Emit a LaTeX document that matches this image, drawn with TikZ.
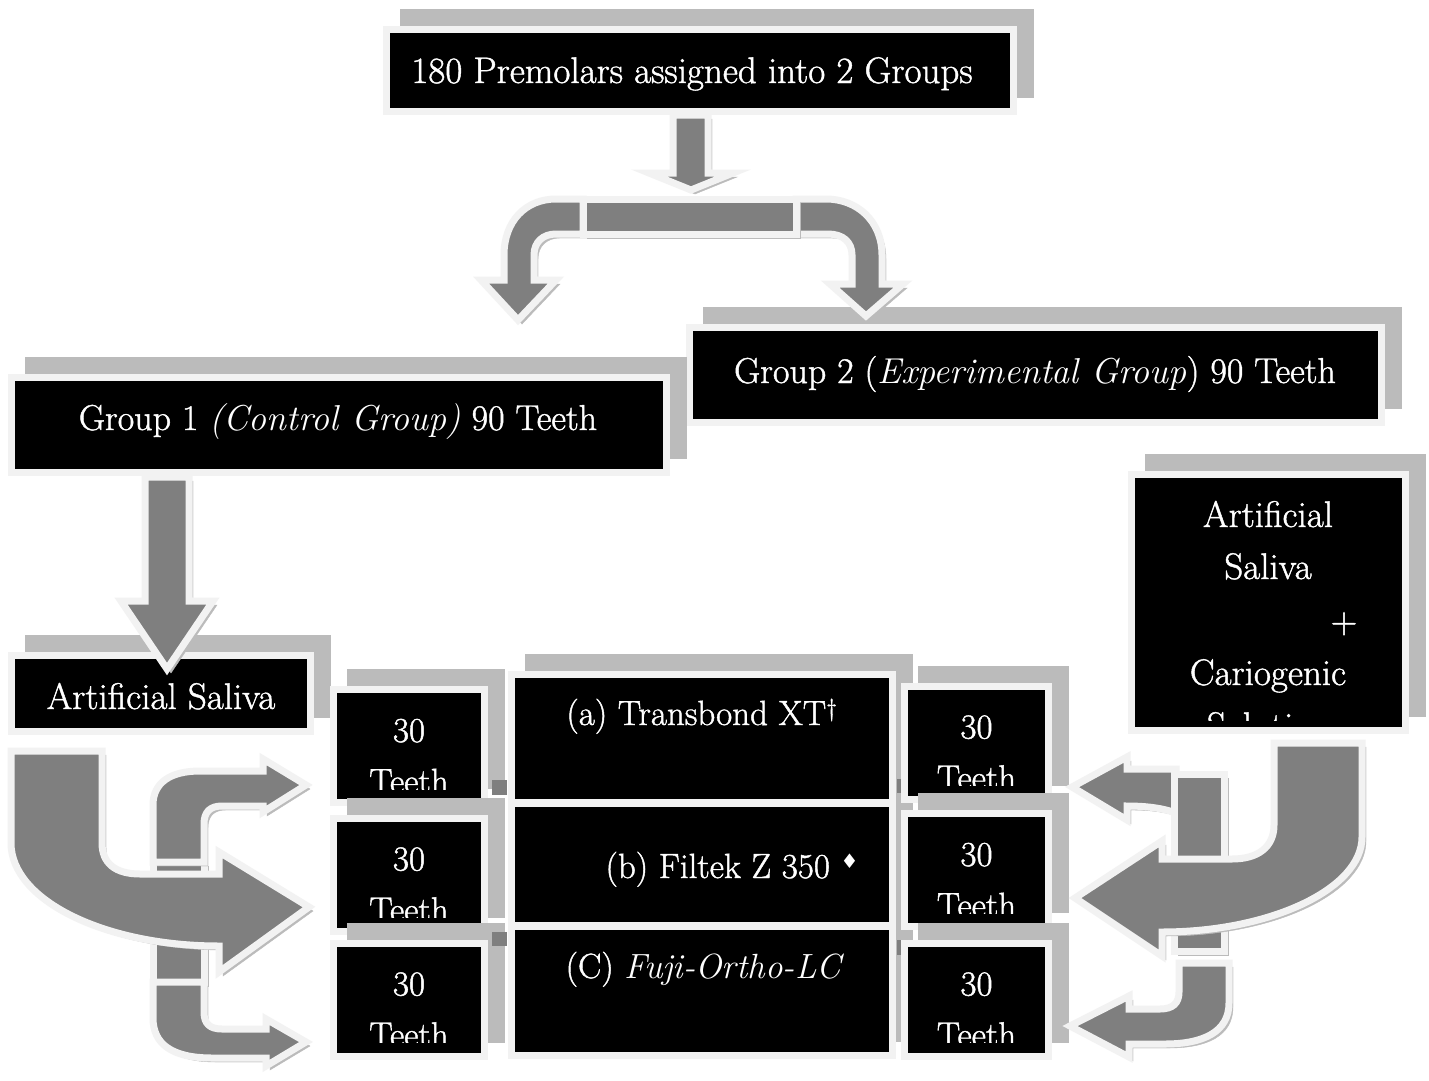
\documentclass[tikz,border=0pt]{standalone}
\usepackage{fontspec}
\setmainfont{Latin Modern Roman}[UprightFeatures={FakeBold=1.2}]
\newfontfamily\symbolfont{DejaVu Sans}

\definecolor{rim}{HTML}{F2F2F2}
\definecolor{shade}{HTML}{BBBBBB}
\definecolor{pipe}{HTML}{7F7F7F}

\begin{document}
\begin{tikzpicture}[x=1pt, y=-1pt,
    blackbox/.style = {draw=rim, fill=black, line width=7pt, inner sep=0pt,
        preaction={draw=shade, fill=shade, transform canvas={xshift=17pt, yshift=17pt}}},
    tooth/.style = {blackbox, minimum width=151pt, minimum height=113pt},
    pipearrow/.style = {draw=rim, fill=pipe, line width=7pt,
        preaction={draw=shade, fill=shade, transform canvas={xshift=4pt, yshift=-4pt}}},
    lbl/.style = {text=white, inner sep=0pt, anchor=base, font=\fontsize{36}{40}\selectfont},
    biglbl/.style = {lbl, font=\fontsize{37}{40}\selectfont},
    teethtext/.style = {lbl, font=\fontsize{35}{40}\selectfont}]

    \path[use as bounding box, fill=white] (0,0) rectangle (1429,1081);

    % top
    \node[blackbox, minimum width=627.5pt, minimum height=81.5pt] (all) at (700,70.75) {};
    \node[biglbl] (all-txt) at (692,83) {180 Premolars assigned into 2 Groups};
    \draw[pipearrow] (673,115) -- (708,115) -- (708,173) -- (733,173) -- (691,190)
        -- (649,173) -- (673,173) -- cycle;

    % groups
    \node[blackbox, minimum width=692pt, minimum height=95pt] (g2) at (1035.5,375) {};
    \node[lbl] (g2-txt) at (1035,383) {Group 2 (\textit{Experimental Group}) 90 Teeth};
    \node[blackbox, minimum width=655pt, minimum height=95pt] (g1) at (339,425) {};
    \node[lbl] (g1-txt) at (338,430) {Group 1 \textit{(Control Group)} 90 Teeth};

    % split
    \draw[pipearrow] (583,199) -- (556,199) .. controls (526,199) and (504,221) .. (504,255)
        -- (504,280) -- (481,280) -- (518,320) -- (556,280) -- (534,280) -- (534,255)
        .. controls (534,242) and (543,234) .. (556,234) -- (583,234) -- cycle;
    \draw[pipearrow] (796,199) -- (826,199) .. controls (857,199) and (882,221) .. (882,255)
        -- (882,284) -- (903,284) -- (866,316) -- (830,284) -- (852,284) -- (852,255)
        .. controls (852,242) and (843,234) .. (828,234) -- (796,234) -- cycle;
    \draw[pipearrow] (583,199) rectangle (796,234);

    % saliva boxes
    \node[blackbox, minimum width=299pt, minimum height=76pt] (as) at (161,693.5) {};
    \node[biglbl] (as-txt) at (161,709) {Artificial Saliva};
    \draw[pipearrow] (145,477) -- (189,477) -- (189,601) -- (213,601) -- (167,669)
        -- (121,601) -- (145,601) -- cycle;

    \node[blackbox, minimum width=274pt, minimum height=256pt] (mix) at (1268.5,602.5) {};
    \begin{scope}
        \clip (1135,478) rectangle (1402,720);
        \node[biglbl] (mix1) at (1268,527) {Artificial};
        \node[biglbl] (mix2) at (1268,579) {Saliva};
        \node[biglbl] (mix3) at (1344,633) {+};
        \node[biglbl] (mix4) at (1268,685) {Cariogenic};
        \node[biglbl] (mix5) at (1268,738) {Solution};
    \end{scope}

    % teeth, left column
    \foreach \nm/\cx/\cy in {l1/409/746, l2/409/874.5, l3/409/999.5} {
        \node[tooth] (\nm) at (\cx,\cy) {};
        \begin{scope}
            \clip (\cx-72,\cy-53) rectangle (\cx+72,\cy+43);
            \node[teethtext] (\nm-num) at (\cx,\cy-4) {30};
            \node[teethtext] (\nm-txt) at (\cx,\cy+47) {Teeth};
        \end{scope}
    }
    \fill[pipe] (492,780) rectangle (507,795);
    \fill[pipe] (492,932) rectangle (507,946);

    % materials
    \node[blackbox, minimum width=381pt, minimum height=129pt] (mc) at (702,991) {};
    \node[blackbox, minimum width=381pt, minimum height=122pt] (mb) at (702,864.5) {};
    \node[blackbox, minimum width=381pt, minimum height=128pt] (ma) at (702,738.5) {};
    \node[teethtext] (ma-txt) at (702,725) {(a) Transbond XT\textsuperscript{\textdagger}};
    \node[teethtext] (mb-txt) at (732,878) {(b) Filtek Z 350 \raisebox{10pt}{\fontsize{20}{20}\symbolfont ♦}};
    \node[teethtext] (mc-txt) at (705,978) {(C) \textit{Fuji-Ortho-LC}};
    \fill[pipe] (897,779) rectangle (901,793);
    \fill[pipe] (897,940) rectangle (901,955);

    % teeth, right column
    \foreach \nm/\cx/\cy in {r1/976.5/742.5, r2/976.5/870, r3/976.5/999.5} {
        \node[tooth, minimum width=144pt] (\nm) at (\cx,\cy) {};
        \begin{scope}
            \clip (\cx-69,\cy-53) rectangle (\cx+69,\cy+43);
            \node[teethtext] (\nm-num) at (\cx,\cy-4) {30};
            \node[teethtext] (\nm-txt) at (\cx,\cy+47) {Teeth};
        \end{scope}
    }

    % left arrows
    \draw[pipearrow] (153,862) rectangle (204,982);
    \draw[pipearrow] (153,862) -- (153,805) .. controls (153,783) and (170,771) .. (200,771)
        -- (263,771) -- (263,759) -- (306,785) -- (263,812) -- (263,806) -- (222,806)
        .. controls (210,806) and (204,812) .. (204,824) -- (204,862) -- cycle;
    \draw[pipearrow] (153,982) -- (153,1018) .. controls (153,1044) and (172,1058) .. (212,1058)
        -- (266,1058) -- (266,1066) -- (306,1042) -- (266,1019) -- (266,1029) -- (222,1029)
        .. controls (210,1029) and (204,1024) .. (204,1012) -- (204,982) -- cycle;
    \draw[pipearrow] (11,751) -- (102,751) -- (102,843) .. controls (102,863) and (115,874) .. (140,874)
        -- (219,874) -- (219,852) -- (309,907) -- (219,972) -- (219,946)
        .. controls (104,946) and (11,900) .. (11,843) -- cycle;

    % right arrows
    \draw[pipearrow] (1176,769) -- (1127,769) -- (1127,757) -- (1072,787) -- (1127,820)
        -- (1127,806) .. controls (1150,806) and (1165,809) .. (1176,813) -- cycle;
    \draw[pipearrow] (1179,963) -- (1229,963) -- (1229,1003) .. controls (1229,1032) and (1203,1044) .. (1165,1044)
        -- (1129,1044) -- (1129,1057) -- (1070,1026) -- (1129,996) -- (1129,1009) -- (1160,1009)
        .. controls (1173,1009) and (1179,1003) .. (1179,992) -- cycle;
    \draw[pipearrow] (1174,774) rectangle (1224,951);
    \draw[pipearrow] (1274,743) -- (1362,743) -- (1362,837) .. controls (1362,889) and (1270,932) .. (1162,932)
        -- (1162,956) -- (1075,898) -- (1162,841) -- (1162,859) -- (1232,859)
        .. controls (1258,859) and (1274,847) .. (1274,825) -- cycle;
\end{tikzpicture}
\end{document}
